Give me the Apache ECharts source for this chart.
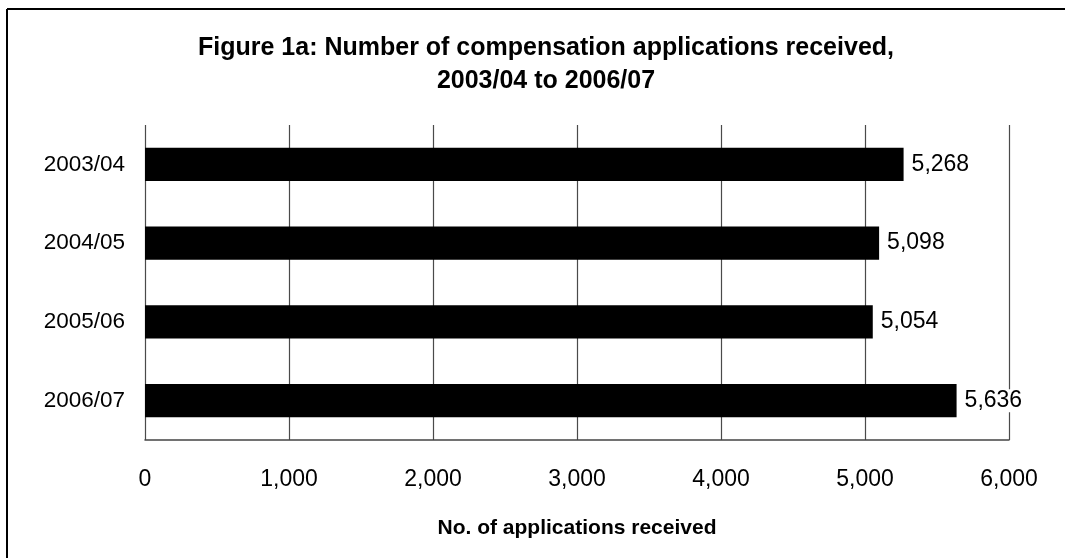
<!DOCTYPE html>
<html>
<head>
<meta charset="utf-8">
<script src="https://cdn.jsdelivr.net/npm/echarts@6/dist/echarts.min.js"></script>
<style>
html,body{margin:0;padding:0;background:#fff;}
#chart{width:1065px;height:558px;}
</style>
</head>
<body>
<div id="chart"></div>
<script>
const categories = ['2003/04', '2004/05', '2005/06', '2006/07'];
const applications = [5268, 5098, 5054, 5636];
const xTicks = [0, 1000, 2000, 3000, 4000, 5000, 6000];

const FONT = "'Liberation Sans', Arial, sans-serif";
const chart = echarts.init(document.getElementById('chart'));
chart.setOption({
  backgroundColor: '#fff',
  animation: false,
  title: {
    text: 'Figure 1a: Number of compensation applications received,\n2003/04 to 2006/07',
    left: 541,
    top: 27,
    textAlign: 'center',
    textStyle: {fontFamily: FONT, fontWeight: 'bold', fontSize: 25, color: '#000', lineHeight: 33}
  },
  graphic: [
    {type: 'line', shape: {x1: 7, y1: 9, x2: 1070, y2: 9}, style: {stroke: '#000', lineWidth: 2}},
    {type: 'line', shape: {x1: 7, y1: 9, x2: 7, y2: 570}, style: {stroke: '#000', lineWidth: 2}}
  ],
  grid: {left: 145, right: 56, top: 125, bottom: 118, containLabel: false},
  xAxis: {
    type: 'value',
    min: xTicks[0],
    max: xTicks[xTicks.length - 1],
    interval: 1000,
    name: 'No. of applications received',
    nameLocation: 'middle',
    nameGap: 78,
    nameTextStyle: {fontFamily: FONT, fontWeight: 'bold', fontSize: 21, color: '#000'},
    axisLine: {show: true, lineStyle: {color: '#444', width: 1.5}},
    axisTick: {show: false},
    axisLabel: {
      margin: 28, fontFamily: FONT, fontSize: 23, color: '#000',
      formatter: v => v.toLocaleString('en-US')
    },
    splitLine: {show: true, lineStyle: {color: '#4a4a4a', width: 1.2}}
  },
  yAxis: {
    type: 'category',
    data: categories,
    inverse: true,
    axisLine: {show: false},
    axisTick: {show: false},
    axisLabel: {margin: 20, fontFamily: FONT, fontSize: 22.5, color: '#000'}
  },
  series: [{
    type: 'bar',
    data: applications,
    barWidth: '42%',
    itemStyle: {color: '#000'},
    label: {
      show: true, position: 'right', distance: 8,
      fontFamily: FONT, fontSize: 23, color: '#000',
      backgroundColor: '#fff', padding: [0, 0, 0, 0],
      formatter: p => p.value.toLocaleString('en-US')
    }
  }]
});
</script>
</body>
</html>
